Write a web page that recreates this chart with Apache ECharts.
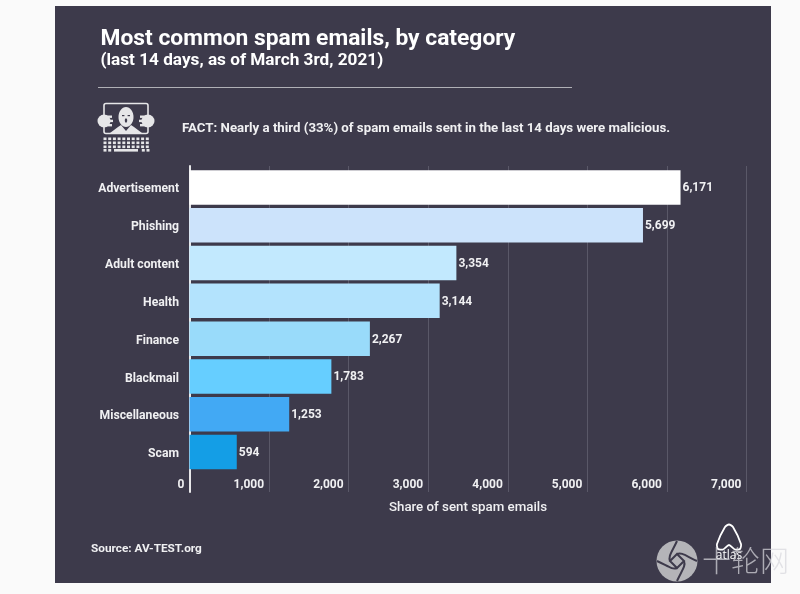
<!DOCTYPE html>
<html>
<head>
<meta charset="utf-8">
<style>
  html, body { margin: 0; padding: 0; background: #fafafa; }
  #chart { width: 800px; height: 594px; }
</style>
<script src="https://cdn.jsdelivr.net/npm/echarts@6/dist/echarts.min.js"></script>
</head>
<body>
<div id="chart"></div>
<script>
var categories = ['Advertisement', 'Phishing', 'Adult content', 'Health', 'Finance', 'Blackmail', 'Miscellaneous', 'Scam'];
var values = [6171, 5699, 3354, 3144, 2267, 1783, 1253, 594];
var barColors = ['#ffffff', '#cce3fb', '#c2e9fe', '#b3e3fd', '#99dbfa', '#66ceff', '#42a9f4', '#149ee6'];
var xTicks = [0, 1000, 2000, 3000, 4000, 5000, 6000, 7000];

var font = 'Roboto';
var panel = '#3d3a4b';
var textColor = '#f0f0f2';

function fmt(v) {
    return v.toString().replace(/\B(?=(\d{3})+$)/g, ',');
}

// hacker icon next to the fact line
function iconParts() {
    var fill = { fill: '#e6e6e8' };
    var parts = [
        { type: 'rect', shape: { x: 104, y: 103.5, width: 44, height: 30, r: 2 }, style: { fill: 'none', stroke: '#e6e6e8', lineWidth: 1.6 } },
        { type: 'polygon', shape: { points: [[110, 133], [118, 127], [121, 125], [126, 131], [131, 125], [134, 127], [142, 133]] }, style: fill },
        { type: 'ellipse', shape: { cx: 126, cy: 117, rx: 7.5, ry: 10 }, style: fill },
        { type: 'rect', shape: { x: 122, y: 115, width: 2.4, height: 1.2 }, style: { fill: panel } },
        { type: 'rect', shape: { x: 127.6, y: 115, width: 2.4, height: 1.2 }, style: { fill: panel } },
        { type: 'ellipse', shape: { cx: 126, cy: 120.5, rx: 1.2, ry: 2.2 }, style: { fill: panel } },
        { type: 'circle', shape: { cx: 104, cy: 121, r: 6.5 }, style: fill },
        { type: 'circle', shape: { cx: 148, cy: 121, r: 6.5 }, style: fill },
        { type: 'rect', shape: { x: 104, y: 115.5, width: 8, height: 2.4 }, style: fill },
        { type: 'rect', shape: { x: 104, y: 119.7, width: 9, height: 2.4 }, style: fill },
        { type: 'rect', shape: { x: 104, y: 124, width: 8, height: 2.4 }, style: fill },
        { type: 'rect', shape: { x: 140, y: 115.5, width: 8, height: 2.4 }, style: fill },
        { type: 'rect', shape: { x: 139, y: 119.7, width: 9, height: 2.4 }, style: fill },
        { type: 'rect', shape: { x: 140, y: 124, width: 8, height: 2.4 }, style: fill },
        { type: 'rect', shape: { x: 114, y: 149, width: 24, height: 2.6 }, style: fill }
    ];
    for (var r = 0; r < 3; r++) {
        for (var c = 0; c < 10; c++) {
            parts.push({ type: 'rect', shape: { x: 103.5 + c * 4.7, y: 137.5 + r * 4, width: 3, height: 2.6 }, style: fill });
        }
    }
    [103.5, 108.2, 141.8, 146.5].forEach(function (x) {
        parts.push({ type: 'rect', shape: { x: x, y: 149, width: 3, height: 2.6 }, style: fill });
    });
    return parts;
}

// atlas logo and the site watermark in the bottom corner
function markParts() {
    var parts = [
        { type: 'polygon', shape: { points: [[729, 524.5], [733, 527], [741, 544], [740, 549], [735, 549.5], [729, 545], [723, 549.5], [718, 549], [717, 544], [725, 527]], smooth: 0.25 }, style: { fill: 'none', stroke: '#ffffff', lineWidth: 1.8 } },
        { type: 'text', style: { x: 729, y: 556, text: 'atlas', fill: '#ffffff', font: '500 12px "Open Sans"', align: 'center', verticalAlign: 'middle' } },
        { type: 'circle', shape: { cx: 677, cy: 561, r: 20.5 }, style: { fill: '#b4b4b8' } },
        { type: 'text', style: { x: 702, y: 561, text: '十轮网', fill: 'rgba(215,215,220,0.72)', font: '300 29px "Noto Sans CJK SC"', verticalAlign: 'middle' } }
    ];
    var swirls = [
        [[677, 541], [672, 552], [668, 556], [670, 561]],
        [[697, 561], [686, 556], [682, 552], [677, 554]],
        [[677, 581], [682, 570], [686, 566], [684, 561]],
        [[657, 561], [668, 566], [672, 570], [677, 568]]
    ];
    swirls.forEach(function (p) {
        parts.push({
            type: 'bezierCurve',
            shape: { x1: p[0][0], y1: p[0][1], cpx1: p[1][0], cpy1: p[1][1], cpx2: p[2][0], cpy2: p[2][1], x2: p[3][0], y2: p[3][1] },
            style: { fill: 'none', stroke: panel, lineWidth: 2 }
        });
    });
    parts.push({ type: 'polygon', shape: { points: [[677, 554], [684, 561], [677, 568], [670, 561]] }, style: { fill: 'none', stroke: panel, lineWidth: 2 } });
    return parts;
}

var myChart = echarts.init(document.getElementById('chart'));

var option = {
    animation: false,
    textStyle: { fontFamily: font },
    title: {
        text: 'Most common spam emails, by category',
        subtext: '(last 14 days, as of March 3rd, 2021)',
        left: 100.5,
        top: 26,
        padding: 0,
        itemGap: 0,
        textStyle: { color: '#ffffff', fontFamily: font, fontSize: 22.8, fontWeight: 'bold', lineHeight: 26 },
        subtextStyle: { color: '#ffffff', fontFamily: font, fontSize: 17.2, fontWeight: 'bold', lineHeight: 18 }
    },
    // grid 0 carries the taller axis and gridlines, grid 1 the bars
    grid: [
        { left: 189.5, width: 557, top: 166, height: 326 },
        { left: 189.5, width: 557, top: 168.5, height: 302.5 }
    ],
    xAxis: [{
        gridIndex: 0,
        type: 'value',
        min: 0,
        max: 7000,
        interval: 1000,
        name: 'Share of sent spam emails',
        nameLocation: 'middle',
        nameGap: 9,
        nameTextStyle: { color: textColor, fontSize: 13.3, fontWeight: 500 },
        axisLine: { show: false },
        axisTick: { show: false },
        splitLine: { show: true, lineStyle: { color: '#5a5868', width: 1 } },
        axisLabel: {
            inside: true,
            margin: 1,
            align: 'right',
            padding: [0, 5, 0, 0],
            color: textColor,
            fontSize: 12,
            fontWeight: 'bold',
            showMinLabel: true,
            showMaxLabel: true,
            formatter: function (v) { return fmt(xTicks[v / 1000]); }
        }
    }, {
        gridIndex: 1,
        type: 'value',
        min: 0,
        max: 7000,
        show: false
    }],
    yAxis: [{
        gridIndex: 0,
        type: 'value',
        min: 0,
        max: 1,
        axisLine: { show: true, onZero: false, lineStyle: { color: '#e8e8ea', width: 2 } },
        axisTick: { show: false },
        axisLabel: { show: false },
        splitLine: { show: false }
    }, {
        gridIndex: 1,
        type: 'category',
        inverse: true,
        data: categories,
        axisLine: { show: false },
        axisTick: { show: false },
        axisLabel: { color: textColor, fontSize: 12.2, fontWeight: 'bold', margin: 10.5, verticalAlign: 'top', lineHeight: 4 }
    }],
    series: [{
        type: 'bar',
        xAxisIndex: 1,
        yAxisIndex: 1,
        barWidth: 34.5,
        z: 3,
        data: values.map(function (v, i) {
            return { value: v, itemStyle: { color: barColors[i] } };
        }),
        label: {
            show: true,
            position: 'right',
            distance: 2,
            offset: [0, 1],
            color: textColor,
            fontSize: 12,
            fontWeight: 'bold',
            formatter: function (p) { return fmt(p.value); }
        }
    }],
    graphic: {
        elements: [
            { type: 'rect', z: -10, shape: { x: 55, y: 6, width: 716, height: 577 }, style: { fill: panel } },
            { type: 'line', shape: { x1: 98, y1: 87.5, x2: 572, y2: 87.5 }, style: { stroke: '#b0b0b6', lineWidth: 1.2 } },
            { type: 'group', children: iconParts() },
            { type: 'text', style: { x: 182, y: 129, text: 'FACT: Nearly a third (33%) of spam emails sent in the last 14 days were malicious.', fill: textColor, font: 'bold 13.25px Roboto', verticalAlign: 'middle' } },
            { type: 'text', style: { x: 91, y: 549, text: 'Source: AV-TEST.org', fill: textColor, font: 'bold 11.8px Roboto', verticalAlign: 'middle' } },
            { type: 'group', z: 50, children: markParts() }
        ]
    }
};

myChart.setOption(option);

window.addEventListener('resize', function () {
    myChart.resize();
});
</script>
</body>
</html>
